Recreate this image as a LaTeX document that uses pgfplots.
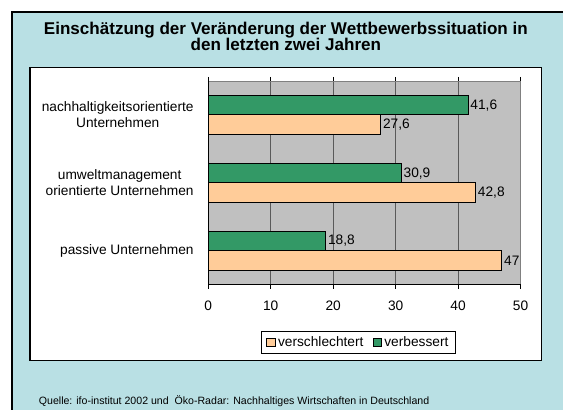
\documentclass[border=0pt]{standalone}
\usepackage{fontspec}
\setmainfont{Liberation Sans}
\usepackage{pgfplots}
\pgfplotsset{compat=1.18}
\definecolor{panel}{RGB}{185,224,228}
\definecolor{orangebar}{RGB}{255,204,153}
\definecolor{greenbar}{RGB}{51,153,102}
\definecolor{plotgray}{RGB}{192,192,192}
\definecolor{gridgray}{RGB}{90,90,90}
\begin{document}
\begin{tikzpicture}
\fill[white] (0pt,0pt) rectangle (423pt,307.5pt);
\fill[panel] (9pt,0pt) rectangle (423pt,298.5pt);
\draw[black, line width=0.9pt] (9pt,0pt) -- (9pt,298.5pt) -- (423pt,298.5pt);
\node[font=\bfseries\fontsize{12.8}{12.8}\selectfont, anchor=base, inner sep=0pt] at (214.6pt,281.8pt) {Einschätzung der Veränderung der Wettbewerbssituation in};
\node[font=\bfseries\fontsize{12.8}{12.8}\selectfont, anchor=base, inner sep=0pt] at (214.6pt,269.5pt) {den letzten zwei Jahren};
\draw[black, line width=0.8pt, fill=white] (22.5pt,36.75pt) rectangle (406.5pt,256.5pt);
\node[anchor=west, font=\fontsize{7.95}{9}\selectfont, inner sep=0pt] at (29pt,6pt) {Quelle: ifo-institut 2002 und\ \ Öko-Radar: Nachhaltiges Wirtschaften in Deutschland};
\begin{axis}[
  at={(156.4pt,93.75pt)}, anchor=south west, scale only axis,
  width=234.4pt, height=153pt,
  xbar, xmin=0, xmax=50, ymin=-0.5, ymax=2.5,
  axis background/.style={fill=plotgray},
  axis line style={draw=gray, line width=0.6pt},
  xtick={0,10,20,30,40,50},
  xmajorgrids, grid style={draw=gridgray, line width=0.8pt},
  tick align=outside, major tick length=3pt,
  tick style={black, line width=0.6pt},
  x tick label style={font=\fontsize{10.3}{12}\selectfont, yshift=-6pt},
  /pgf/number format/assume math mode=true,
  ytick={0,1,2},
  yticklabels={passive Unternehmen, {umweltmanagement\\orientierte Unternehmen}, {nachhaltigkeitsorientierte\\Unternehmen}},
  y tick label style={align=center, font=\fontsize{10.3}{12.3}\selectfont, xshift=-4.5pt},
  y tick style={draw=none},
  extra y ticks={-0.5,0.5,1.5,2.5},
  extra y tick labels={},
  extra y tick style={major tick length=4pt, tick style={draw=black}, grid=none},
  bar width=14.5pt,
  point meta=x,
  nodes near coords={\pgfmathprintnumber[use comma,fixed,precision=1]{\pgfplotspointmeta}},
  every node near coord/.append style={font=\fontsize{10.3}{12}\selectfont, anchor=west, inner sep=1.5pt, black},
  legend columns=2,
  legend style={at={(0.482,-0.2827)}, anchor=center, draw=black, line width=0.6pt, font=\fontsize{10.3}{12}\selectfont, inner xsep=3.5pt, inner ysep=1.8pt, /tikz/every even column/.append style={column sep=5pt}},
  legend image code/.code={\draw[#1, draw=black, line width=0.5pt] (0pt,-3.1pt) rectangle (6.2pt,3.1pt);},
  clip=false,
]
\addplot[fill=orangebar, draw=black, line width=0.6pt, bar shift=-7.25pt] coordinates {(47,0) (42.8,1) (27.6,2)};
\addlegendentry{verschlechtert}
\addplot[fill=greenbar, draw=black, line width=0.6pt, bar shift=7.25pt] coordinates {(18.8,0) (30.9,1) (41.6,2)};
\addlegendentry{verbessert}
\draw[black, line width=0.6pt] (axis cs:0,-0.5) -- (axis cs:0,2.5);
\draw[black, line width=0.6pt] (axis cs:0,-0.5) -- (axis cs:50,-0.5);
\end{axis}
\end{tikzpicture}
\end{document}
